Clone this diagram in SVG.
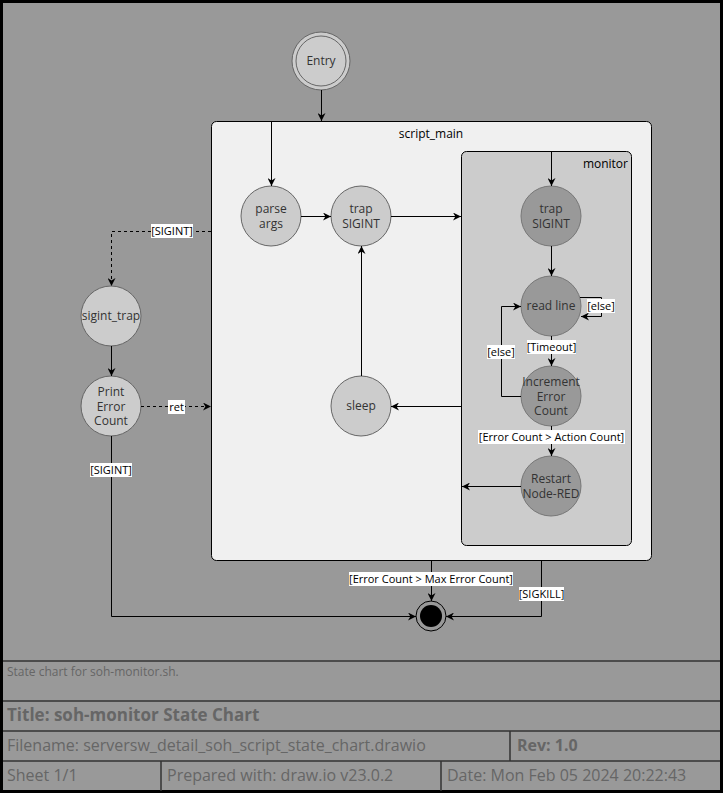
<svg xmlns="http://www.w3.org/2000/svg" width="723" height="793" viewBox="0 0 723 793">
<style>
text{font-family:"Open Sans","Noto Sans","DejaVu Sans",sans-serif;}
.nl{font-size:12px;fill:#333;text-anchor:middle;}
.lc{fill:#cccccc;stroke:#666;stroke-width:1;}
.dc{fill:#999999;stroke:#777;stroke-width:1;}
.e{fill:none;stroke:#000;stroke-width:1;}
.d{stroke-dasharray:3,3;}
.lb{font-size:11px;fill:#000;text-anchor:middle;}
.bg{fill:#fff;}
.ft{fill:#666;}
.tl{stroke:#333;stroke-width:1.5;fill:none;}
</style>
<defs>
<marker id="a" viewBox="0 0 10 10" refX="10" refY="5" markerWidth="8" markerHeight="8" orient="auto" markerUnits="userSpaceOnUse">
<path d="M0,0 L10,5 L0,10 L3,5 z" fill="#000"/>
</marker>
</defs>
<rect x="1.5" y="1.5" width="720" height="790" fill="#999999" stroke="#000" stroke-width="3"/>

<g id="script_main">
<rect x="211.5" y="121.5" width="440" height="439" rx="5" fill="#f0f0f0" stroke="#000"/>
<text x="431" y="138" style="font-size:12px;fill:#000;text-anchor:middle">script_main</text>
</g>
<g id="monitor">
<rect x="461.5" y="151.5" width="170" height="394" rx="5" fill="#cccccc" stroke="#000"/>
<text x="628" y="168" style="font-size:12px;fill:#000;text-anchor:end">monitor</text>
</g>

<g id="entry">
<circle cx="321" cy="61" r="29" class="lc"/>
<circle cx="321" cy="61" r="25" class="lc"/>
<text x="321" y="65" class="nl">Entry</text>
</g>
<g id="parse_args">
<circle cx="271" cy="216" r="30" class="lc"/>
<text x="271" y="213" class="nl">parse<tspan x="271" dy="15">args</tspan></text>
</g>
<g id="trap_sigint_main">
<circle cx="361" cy="216" r="30" class="lc"/>
<text x="361" y="213" class="nl">trap<tspan x="361" dy="15">SIGINT</tspan></text>
</g>
<g id="sleep">
<circle cx="361" cy="406" r="30" class="lc"/>
<text x="361" y="410" class="nl">sleep</text>
</g>
<g id="trap_sigint_monitor">
<circle cx="551" cy="216" r="30" class="dc"/>
<text x="551" y="213" class="nl">trap<tspan x="551" dy="15">SIGINT</tspan></text>
</g>
<g id="read_line">
<circle cx="551" cy="306" r="30" class="dc"/>
<text x="551" y="310" class="nl">read line</text>
</g>
<g id="increment">
<circle cx="551" cy="396" r="30" class="dc"/>
<text x="551" y="386" class="nl">Increment<tspan x="551" dy="14.5">Error</tspan><tspan x="551" dy="14.5">Count</tspan></text>
</g>
<g id="restart">
<circle cx="551" cy="486" r="30" class="dc"/>
<text x="551" y="483" class="nl">Restart<tspan x="551" dy="14.5">Node-RED</tspan></text>
</g>
<g id="sigint_trap">
<circle cx="111" cy="316" r="30" class="lc"/>
<text x="111" y="320" class="nl">sigint_trap</text>
</g>
<g id="print_error">
<circle cx="111" cy="406" r="30" class="lc"/>
<text x="111" y="396" class="nl">Print<tspan x="111" dy="14.5">Error</tspan><tspan x="111" dy="14.5">Count</tspan></text>
</g>
<g id="final">
<circle cx="431" cy="616" r="15" fill="none" stroke="#000" stroke-width="1"/>
<circle cx="431" cy="616" r="11" fill="#000"/>
</g>

<g id="connectors">
<path class="e" d="M321.5,90 L321.5,121" marker-end="url(#a)"/>
<path class="e" d="M271.5,122 L271.5,186" marker-end="url(#a)"/>
<path class="e" d="M301,216.5 L331,216.5" marker-end="url(#a)"/>
<path class="e" d="M391,216.5 L461,216.5" marker-end="url(#a)"/>
<path class="e" d="M551.5,152 L551.5,186" marker-end="url(#a)"/>
<path class="e" d="M551.5,246 L551.5,276" marker-end="url(#a)"/>
<path class="e" d="M580,297.5 L601.5,297.5 L601.5,316.5 L581,316.5" marker-end="url(#a)"/>
<path class="e" d="M551.5,336 L551.5,366" marker-end="url(#a)"/>
<path class="e" d="M521,396.5 L501.5,396.5 L501.5,306.5 L521,306.5" marker-end="url(#a)"/>
<path class="e" d="M551.5,426 L551.5,456" marker-end="url(#a)"/>
<path class="e" d="M521,486.5 L462,486.5" marker-end="url(#a)"/>
<path class="e" d="M461,406.5 L391,406.5" marker-end="url(#a)"/>
<path class="e" d="M361.5,376 L361.5,246" marker-end="url(#a)"/>
<path class="e d" d="M211,231.5 L111.5,231.5 L111.5,286" marker-end="url(#a)"/>
<path class="e" d="M111.5,346 L111.5,376" marker-end="url(#a)"/>
<path class="e d" d="M141,406.5 L211,406.5" marker-end="url(#a)"/>
<path class="e" d="M111.5,436 L111.5,616.5 L416,616.5" marker-end="url(#a)"/>
<path class="e" d="M431.5,561 L431.5,601" marker-end="url(#a)"/>
<path class="e" d="M541.5,561 L541.5,616.5 L446,616.5" marker-end="url(#a)"/>

<rect x="587" y="299" width="28" height="14" class="bg"/>
<text x="601" y="310" class="lb">[else]</text>
<rect x="527" y="340" width="49" height="14" class="bg"/>
<text x="551.5" y="351" class="lb">[Timeout]</text>
<rect x="487" y="345" width="28" height="14" class="bg"/>
<text x="501" y="356" class="lb">[else]</text>
<rect x="478" y="430" width="147" height="14" class="bg"/>
<text x="551.5" y="441" class="lb">[Error Count &gt; Action Count]</text>
<rect x="151" y="224" width="42" height="14" class="bg"/>
<text x="172" y="235" class="lb">[SIGINT]</text>
<rect x="168" y="400" width="17" height="14" class="bg"/>
<text x="176.5" y="411" class="lb">ret</text>
<rect x="90" y="463" width="42" height="14" class="bg"/>
<text x="111" y="474" class="lb">[SIGINT]</text>
<rect x="349" y="572" width="164" height="14" class="bg"/>
<text x="431" y="583" class="lb">[Error Count &gt; Max Error Count]</text>
<rect x="519" y="587" width="45" height="14" class="bg"/>
<text x="541.5" y="598" class="lb">[SIGKILL]</text>
</g>

<g id="title_block">
<path class="tl" d="M3,661 L720,661 M3,701 L720,701 M3,731 L720,731 M3,761 L720,761 M510,731 L510,761 M161,761 L161,791 M441,761 L441,791"/>
<text x="7" y="676" class="ft" style="font-size:12px">State chart for soh-monitor.sh.</text>
<text x="7" y="721" class="ft" style="font-size:17px;font-weight:bold">Title: soh-monitor State Chart</text>
<text x="7" y="751" class="ft" style="font-size:16px">Filename: serversw_detail_soh_script_state_chart.drawio</text>
<text x="517" y="751" class="ft" style="font-size:16px;font-weight:bold">Rev: 1.0</text>
<text x="7" y="781" class="ft" style="font-size:16px">Sheet 1/1</text>
<text x="167" y="781" class="ft" style="font-size:16px">Prepared with: draw.io v23.0.2</text>
<text x="447" y="781" class="ft" style="font-size:16px">Date: Mon Feb 05 2024 20:22:43</text>
</g>
</svg>
